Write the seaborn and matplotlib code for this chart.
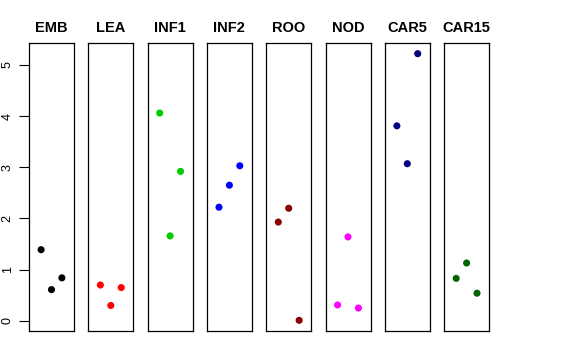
import numpy as np
import pandas as pd
import seaborn as sns
import matplotlib
matplotlib.use("Agg")
import matplotlib.pyplot as plt

# tissues, colours and the three replicate values per tissue
tissues = ["EMB", "LEA", "INF1", "INF2", "ROO", "NOD", "CAR5", "CAR15"]
colors = ["#000000", "#FF0000", "#00CD00", "#0000FF",
          "#8B0000", "#FF00FF", "#000080", "#006400"]
replicate = [1, 2, 3]
values = {
    "EMB":   [1.39, 0.61, 0.84],
    "LEA":   [0.70, 0.30, 0.65],
    "INF1":  [4.06, 1.66, 2.92],
    "INF2":  [2.22, 2.65, 3.03],
    "ROO":   [1.93, 2.20, 0.01],
    "NOD":   [0.31, 1.64, 0.25],
    "CAR5":  [3.81, 3.07, 5.22],
    "CAR15": [0.83, 1.13, 0.54],
}

df = pd.DataFrame([
    {"tissue": t, "rep": r, "value": v}
    for t in tissues for r, v in zip(replicate, values[t])
])

sns.set_style("white")
plt.rcParams["font.family"] = ["Liberation Sans", "DejaVu Sans"]
plt.rcParams["text.color"] = "black"
plt.rcParams["ytick.color"] = "black"

W, H = 576, 360
fig = plt.figure(figsize=(W / 100, H / 100), dpi=100)

# R-style 4% padding on the shared y range
ymin, ymax = df["value"].min(), df["value"].max()
pad = (ymax - ymin) * 0.04
ylim = (ymin - pad, ymax + pad)

left0, pitch, pw = 29.0, 59.3, 45.0
top, bottom = 43.0, 331.0

for i, (t, c) in enumerate(zip(tissues, colors)):
    x0 = left0 + i * pitch
    ax = fig.add_axes([x0 / W, 1 - bottom / H, pw / W, (bottom - top) / H])
    sub = df[df["tissue"] == t]
    sns.scatterplot(data=sub, x="rep", y="value", color=c, s=26,
                    edgecolor="none", ax=ax, legend=False)
    ax.set_xlim(-0.16, 4.16)
    ax.set_ylim(*ylim)
    ax.set_xticks([])
    ax.set_xlabel("")
    ax.set_ylabel("")
    for sp in ax.spines.values():
        sp.set_visible(True)
        sp.set_color("black")
        sp.set_linewidth(0.9)
    ax.set_title(t, fontsize=10.5, fontweight="bold", pad=8, color="black")
    if i == 0:
        ax.set_yticks([0, 1, 2, 3, 4, 5])
        ax.tick_params(axis="y", left=True, length=7, width=0.8,
                       labelsize=9, pad=4, color="black", labelcolor="black")
        for lab in ax.get_yticklabels():
            lab.set_rotation(90)
            lab.set_va("center")
    else:
        ax.set_yticks([])

fig.savefig("out.png", dpi=100)
